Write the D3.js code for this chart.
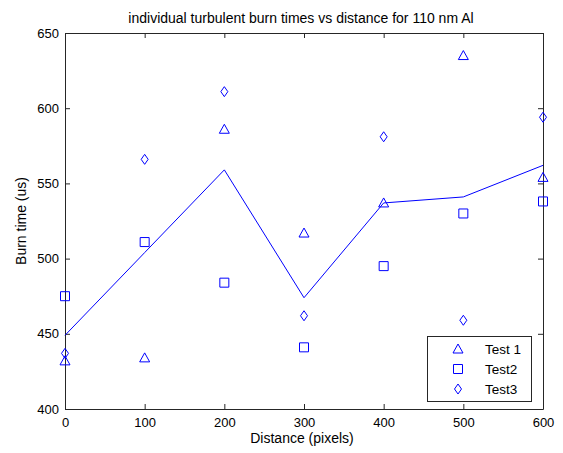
<!DOCTYPE html>
<html>
<head>
<meta charset="utf-8">
<script src="https://cdn.jsdelivr.net/npm/d3@7"></script>
<style>
  body { margin: 0; background: #fff; }
  svg { display: block; font-family: "Liberation Sans", Arial, sans-serif; }
</style>
</head>
<body>
<svg id="chart" width="563" height="453"></svg>
<script>
// data
var distance = [0, 100, 200, 300, 400, 500, 600];
var test1 = [432, 434, 586, 517, 537, 635, 554];
var test2 = [475, 511, 484, 441, 495, 530, 538];
var test3 = [437, 566, 611, 462, 581, 459, 594];
var meanLine = [449, 504, 559, 474, 537, 541, 562];
var xTicks = [0, 100, 200, 300, 400, 500, 600];
var yTicks = [400, 450, 500, 550, 600, 650];
var legendNames = ["Test 1", "Test2", "Test3"];

var svg = d3.select("#chart");
var blue = "#0000ff";
var axisCol = "#262626";

var x = d3.scaleLinear().domain([0, 600]).range([65, 543]);
var y = d3.scaleLinear().domain([400, 650]).range([409, 33]);

// white plot box
svg.append("rect").attr("x", 65).attr("y", 33).attr("width", 478).attr("height", 376)
    .attr("fill", "#fff");

//axes (ticks inside, box on all sides)
var tk = 5;
var gx = svg.append("g").attr("transform", "translate(0,409)")
    .call(d3.axisBottom(x).tickValues(xTicks).tickSize(-tk).tickPadding(9).tickSizeOuter(0));
var gxt = svg.append("g").attr("transform", "translate(0,33)")
    .call(d3.axisTop(x).tickValues(xTicks).tickSize(-tk).tickFormat("").tickSizeOuter(0));
var gy = svg.append("g").attr("transform", "translate(65,0)")
    .call(d3.axisLeft(y).tickValues(yTicks).tickSize(-tk).tickPadding(6).tickSizeOuter(0));
var gyr = svg.append("g").attr("transform", "translate(543,0)")
    .call(d3.axisRight(y).tickValues(yTicks).tickSize(-tk).tickFormat("").tickSizeOuter(0));

[gx, gxt, gy, gyr].forEach(function (g) {
    g.selectAll("path").attr("stroke", axisCol);
    g.selectAll("line").attr("stroke", axisCol);
    g.selectAll("text").attr("fill", "#000").style("font-size", "13px");
});

// mean line
var line = d3.line().x(function (d, i) { return x(distance[i]); }).y(function (d) { return y(d); });
svg.append("path").datum(meanLine).attr("d", line)
    .attr("fill", "none").attr("stroke", blue).attr("stroke-width", 1);

// markers
var sym = {
    tri: function (cx, cy) { return "M" + cx + "," + (cy - 5) + "L" + (cx + 5) + "," + (cy + 4) + "L" + (cx - 5) + "," + (cy + 4) + "Z"; },
    sq: function (cx, cy) { return "M" + (cx - 4.5) + "," + (cy - 4.5) + "h9v9h-9Z"; },
    dia: function (cx, cy) { return "M" + cx + "," + (cy - 5) + "L" + (cx + 3.5) + "," + cy + "L" + cx + "," + (cy + 5) + "L" + (cx - 3.5) + "," + cy + "Z"; }
};
function drawSeries(data, shape) {
    svg.append("g").selectAll("path").data(data).enter().append("path")
        .attr("d", function (d, i) { return sym[shape](x(distance[i]), y(d)); })
        .attr("fill", "none").attr("stroke", blue).attr("stroke-width", 1);
}
drawSeries(test1, "tri");
drawSeries(test2, "sq");
drawSeries(test3, "dia");

// title and labels
svg.append("text").attr("x", 301).attr("y", 23).attr("text-anchor", "middle")
    .style("font-size", "14px").text("individual turbulent burn times vs distance for 110 nm Al");
svg.append("text").attr("x", 302).attr("y", 443).attr("text-anchor", "middle")
    .style("font-size", "14px").text("Distance (pixels)");
svg.append("text").attr("transform", "translate(26,221) rotate(-90)").attr("text-anchor", "middle")
    .style("font-size", "14px").text("Burn time (us)");

// legend
var leg = svg.append("g");
leg.append("rect").attr("x", 427.5).attr("y", 336.5).attr("width", 104).attr("height", 65)
    .attr("fill", "#fff").attr("stroke", axisCol);
var shapes = ["tri", "sq", "dia"];
legendNames.forEach(function (name, i) {
    var cy = 349 + i * 20;
    leg.append("path").attr("d", sym[shapes[i]](458, cy))
        .attr("fill", "none").attr("stroke", blue);
    leg.append("text").attr("x", 485).attr("y", cy + 5).style("font-size", "13.5px").text(name);
});
</script>
</body>
</html>
